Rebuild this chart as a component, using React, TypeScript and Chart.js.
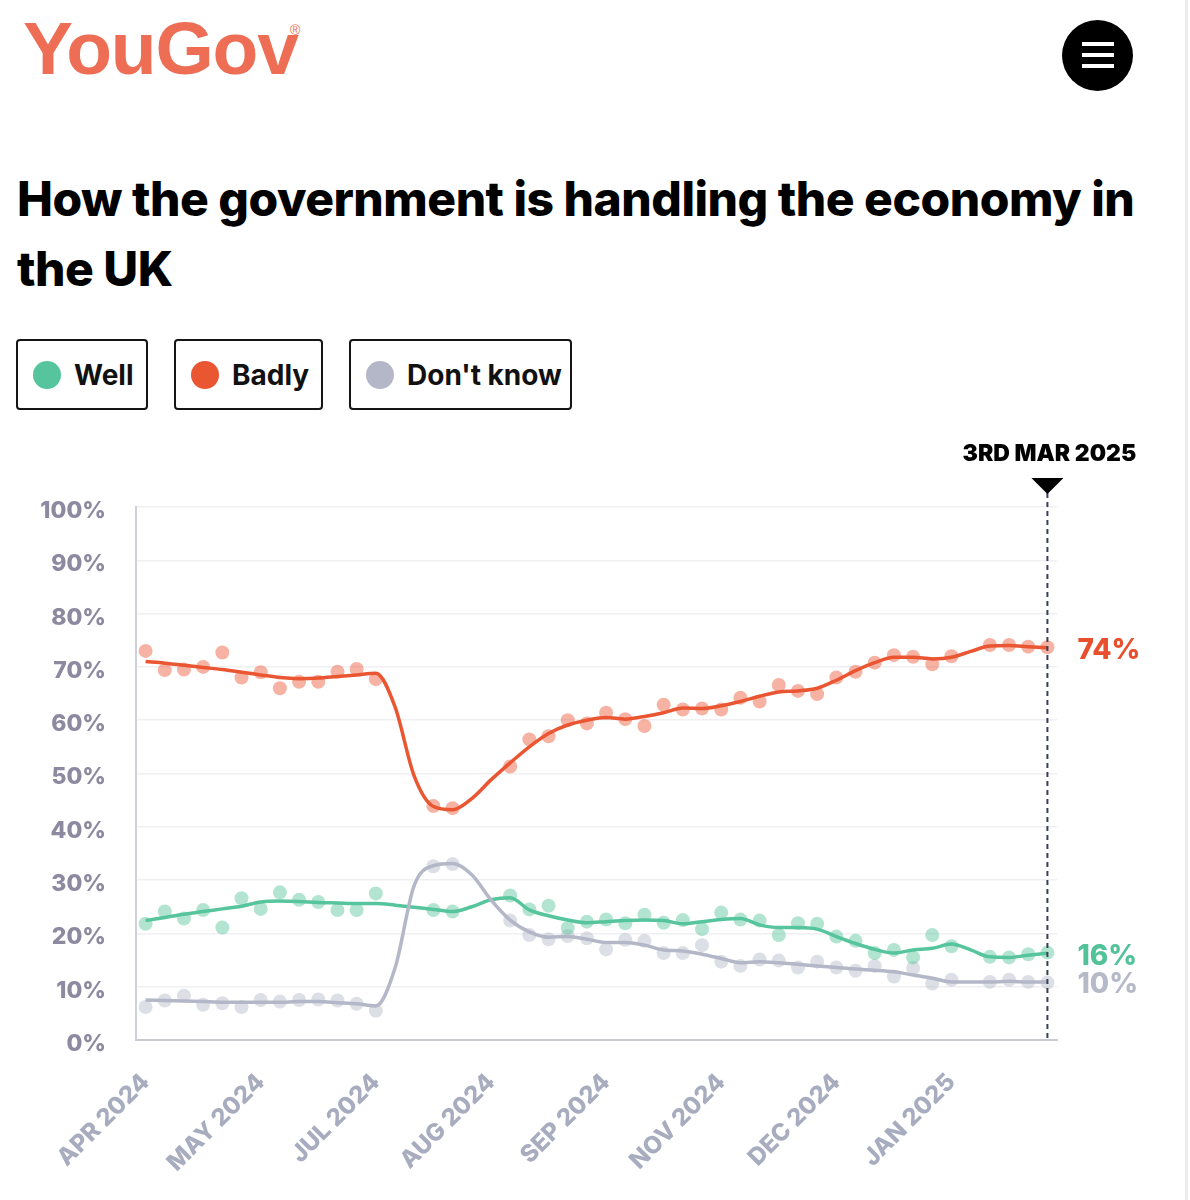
import React, { useEffect, useRef } from "react";
import { Chart, registerables } from "chart.js";

Chart.register(...registerables);

// ---------- data ----------
const monthTicks = ["APR 2024", "MAY 2024", "JUL 2024", "AUG 2024", "SEP 2024", "NOV 2024", "DEC 2024", "JAN 2025"];
const TICK_EVERY = 6;
const weekCount = 48;
const categories: string[] = Array.from({ length: weekCount }, (_, i) =>
  i % TICK_EVERY === 0 && monthTicks[i / TICK_EVERY] ? monthTicks[i / TICK_EVERY] : ""
);

const seriesNames = ["Well", "Badly", "Don't know"];
const latestValues = [16, 74, 10];
const dateLabel = "3RD MAR 2025";

const wellPoints = [21.8, 24.1, 22.8, 24.4, 21.1, 26.6, 24.6, 27.7, 26.3, 25.9, 24.4, 24.4, 27.5, null, null, 24.4, 24.1, null, null, 27.1, 24.5, 25.2, 21.0, 22.2, 22.6, 21.9, 23.5, 22.0, 22.5, 20.8, 23.9, 22.6, 22.4, 19.7, 21.9, 21.8, 19.4, 18.6, 16.3, 16.9, 15.5, 19.7, 17.6, null, 15.6, 15.5, 16.1, 16.4];
const wellTrend = [22.4, 23.0, 23.6, 24.1, 24.6, 25.1, 25.9, 26.1, 26.0, 25.8, 25.7, 25.6, 25.6, 25.3, 24.9, 24.5, 24.1, 25.0, 26.3, 26.7, 24.4, 23.3, 22.5, 22.0, 22.2, 22.4, 22.5, 22.4, 21.8, 22.2, 22.6, 22.8, 21.6, 21.1, 21.1, 20.8, 19.4, 18.1, 17.0, 16.3, 16.9, 17.2, 18.0, 16.9, 15.6, 15.5, 15.9, 16.3];

const badlyPoints = [73.0, 69.4, 69.5, 70.0, 72.7, 68.0, 69.0, 66.0, 67.2, 67.2, 69.1, 69.6, 67.7, null, null, 43.9, 43.5, null, null, 51.3, 56.4, 57.0, 60.0, 59.4, 61.4, 60.2, 58.9, 62.9, 62.0, 62.2, 62.0, 64.2, 63.5, 66.6, 65.5, 64.9, 68.0, 69.1, 70.8, 72.2, 71.9, 70.5, 72.0, null, 74.1, 74.1, 73.8, 73.7];
const badlyTrend = [71.0, 70.7, 70.3, 69.9, 69.5, 69.0, 68.5, 68.0, 67.8, 67.9, 68.2, 68.5, 68.8, 62.5, 49.5, 43.8, 43.2, 45.3, 48.8, 52.0, 55.0, 57.5, 59.1, 60.0, 60.5, 60.2, 60.7, 61.4, 62.3, 62.2, 62.7, 63.5, 64.5, 65.3, 65.5, 66.0, 67.5, 69.3, 70.8, 71.8, 71.8, 71.5, 71.8, 72.9, 73.9, 74.0, 73.8, 73.6];

const dkPoints = [6.2, 7.4, 8.3, 6.6, 6.9, 6.2, 7.5, 7.2, 7.5, 7.6, 7.4, 6.8, 5.5, null, null, 32.6, 33.0, null, null, 22.4, 19.7, 18.9, 19.5, 19.1, 17.0, 18.8, 18.6, 16.3, 16.3, 17.8, 14.7, 13.9, 15.1, 14.9, 13.6, 14.7, 13.6, 13.0, 13.9, 11.9, 13.5, 10.6, 11.3, null, 10.9, 11.3, 10.9, 10.8];
const dkTrend = [7.5, 7.4, 7.3, 7.2, 7.1, 7.1, 7.1, 7.1, 7.2, 7.2, 7.0, 6.8, 6.4, 13.5, 29.0, 32.7, 33.1, 31.0, 26.3, 22.5, 20.3, 19.3, 19.4, 18.9, 18.3, 18.3, 17.8, 16.9, 16.7, 16.1, 15.3, 14.5, 14.7, 14.5, 14.2, 13.9, 13.6, 13.3, 13.1, 12.8, 12.2, 11.6, 10.9, 10.9, 10.9, 11.0, 10.9, 10.9];

const yTicks = [0, 10, 20, 30, 40, 50, 60, 70, 80, 90, 100];

// ---------- styles ----------
const lineColors = ["#56c49c", "#ea5532", "#b4b7c7"];
const pointColors = ["rgba(86,196,156,0.45)", "rgba(234,85,50,0.45)", "rgba(180,183,199,0.45)"];
const labelColors = ["#52c299", "#e84f2c", "#b6b9c8"];
const FONT = "Inter, 'Noto Sans', sans-serif";

const endMarker = {
  id: "endMarker",
  afterDatasetsDraw(chart: any) {
    const { ctx, chartArea, scales } = chart;
    const x = scales.x;
    const y = scales.y;
    const lastIdx = categories.length - 1;
    const px = x.getPixelForValue(lastIdx);
    ctx.save();
    ctx.strokeStyle = "#394050";
    ctx.lineWidth = 2;
    ctx.setLineDash([5, 4]);
    ctx.beginPath();
    ctx.moveTo(px, chartArea.top - 14);
    ctx.lineTo(px, chartArea.bottom);
    ctx.stroke();
    ctx.setLineDash([]);
    ctx.fillStyle = "#000";
    ctx.beginPath();
    ctx.moveTo(px - 16, chartArea.top - 29);
    ctx.lineTo(px + 16, chartArea.top - 29);
    ctx.lineTo(px, chartArea.top - 13);
    ctx.closePath();
    ctx.fill();
    ctx.font = `900 23px ${FONT}`;
    ctx.textAlign = "center";
    ctx.textBaseline = "alphabetic";
    ctx.fillText(dateLabel, px + 2, chartArea.top - 46);

    const trends = [wellTrend, badlyTrend, dkTrend];
    ctx.font = `800 28px ${FONT}`;
    ctx.textAlign = "left";
    ctx.textBaseline = "middle";
    trends.forEach((t, i) => {
      const py = y.getPixelForValue(t[t.length - 1]) + 3;
      ctx.fillStyle = labelColors[i];
      ctx.fillText(`${latestValues[i]}%`, px + 30, py);
    });
    ctx.restore();
  },
};

function ChartView() {
  const ref = useRef<HTMLCanvasElement | null>(null);
  useEffect(() => {
    if (!ref.current) return;
    const pts = [wellPoints, badlyPoints, dkPoints];
    const trends = [wellTrend, badlyTrend, dkTrend];
    const datasets: any[] = [];
    trends.forEach((t, i) => {
      datasets.push({
        label: seriesNames[i] + " trend",
        data: t,
        borderColor: lineColors[i],
        borderWidth: 3.5,
        pointRadius: 0,
        cubicInterpolationMode: "monotone",
        fill: false,
        order: i === 0 ? 1 : 0,
      });
    });
    pts.forEach((p, i) => {
      datasets.push({
        label: seriesNames[i],
        data: p,
        showLine: false,
        pointRadius: 7,
        pointBorderWidth: 0,
        pointBackgroundColor: pointColors[i],
        borderColor: pointColors[i],
        order: 5,
      });
    });
    const chart = new Chart(ref.current, {
      type: "line",
      data: { labels: categories, datasets },
      plugins: [endMarker],
      options: {
        animation: false,
        responsive: true,
        maintainAspectRatio: false,
        layout: { padding: { top: 77, right: 133, left: 0, bottom: 0 } },
        plugins: { legend: { display: false }, tooltip: { enabled: false } },
        scales: {
          x: {
            type: "category",
            offset: true,
            grid: { display: false, drawTicks: false },
            border: { display: true, color: "#c8cad3", width: 2 },
            ticks: {
              autoSkip: false,
              maxRotation: 45,
              minRotation: 45,
              padding: 28,
              color: "#a7acbf",
              font: { family: FONT, size: 24, weight: "800" as any },
              callback: (_v: any, i: number) => categories[i],
            },
            afterFit: (s: any) => {
              s.height = 160;
            },
          },
          y: {
            min: 0,
            max: 100,
            afterBuildTicks: (s: any) => {
              s.ticks = yTicks.map((v) => ({ value: v }));
            },
            grid: { color: "#f0f0f3", lineWidth: 1.5, drawTicks: false },
            border: { display: true, color: "#cfd1da", width: 2 },
            ticks: {
              padding: 30,
              labelOffset: 4,
              color: "#8d89a0",
              font: { family: FONT, size: 23, weight: "800" as any },
              callback: (v: any) => `${v}%`,
            },
            afterFit: (s: any) => {
              s.width = 136;
            },
          },
        },
      } as any,
    });
    return () => chart.destroy();
  }, []);
  return <canvas ref={ref} />;
}

const legendBoxes = [
  { left: 16, width: 132 },
  { left: 174, width: 149 },
  { left: 349, width: 223 },
];

export default function App() {
  return (
    <div style={{ position: "absolute", left: 0, top: 0, width: 1190, height: 1200, background: "#fff", overflow: "hidden", fontFamily: FONT }}>
      <div style={{ position: "absolute", left: 1185, top: 0, width: 3, height: 1200, background: "#ececec" }} />
      <div style={{ position: "absolute", left: 23, top: 6, fontFamily: "'Liberation Sans', Arial, sans-serif", fontWeight: 700, fontSize: 75, lineHeight: "84px", color: "#ee6d55", letterSpacing: -1.2 }}>
        YouGov
      </div>
      <div style={{ position: "absolute", left: 290, top: 22, fontFamily: "'Liberation Sans', Arial, sans-serif", fontSize: 14, lineHeight: "16px", color: "#ee6d55" }}>®</div>
      <div style={{ position: "absolute", left: 1062, top: 20, width: 71, height: 71, borderRadius: "50%", background: "#000" }}>
        {[22, 33, 44].map((t) => (
          <div key={t} style={{ position: "absolute", left: 20, top: t, width: 32, height: 4, background: "#fff" }} />
        ))}
      </div>
      <div style={{ position: "absolute", left: 17, top: 164, fontWeight: 800, fontSize: 48, lineHeight: "70px", color: "#000", letterSpacing: -0.5, whiteSpace: "nowrap" }}>
        How the government is handling the economy in
        <br />
        the UK
      </div>
      {seriesNames.map((name, i) => (
        <div
          key={name}
          style={{
            position: "absolute",
            left: legendBoxes[i].left,
            top: 339,
            width: legendBoxes[i].width,
            height: 71,
            boxSizing: "border-box",
            border: "2px solid #151515",
            borderRadius: 4,
            display: "flex",
            alignItems: "center",
            paddingLeft: 15,
          }}
        >
          <span style={{ width: 28, height: 28, borderRadius: "50%", background: lineColors[i], display: "inline-block", marginRight: 13 }} />
          <span style={{ fontWeight: 700, fontSize: 28, color: "#111" }}>{name}</span>
        </div>
      ))}
      <div style={{ position: "absolute", left: 0, top: 430, width: 1190, height: 770 }}>
        <ChartView />
      </div>
    </div>
  );
}
